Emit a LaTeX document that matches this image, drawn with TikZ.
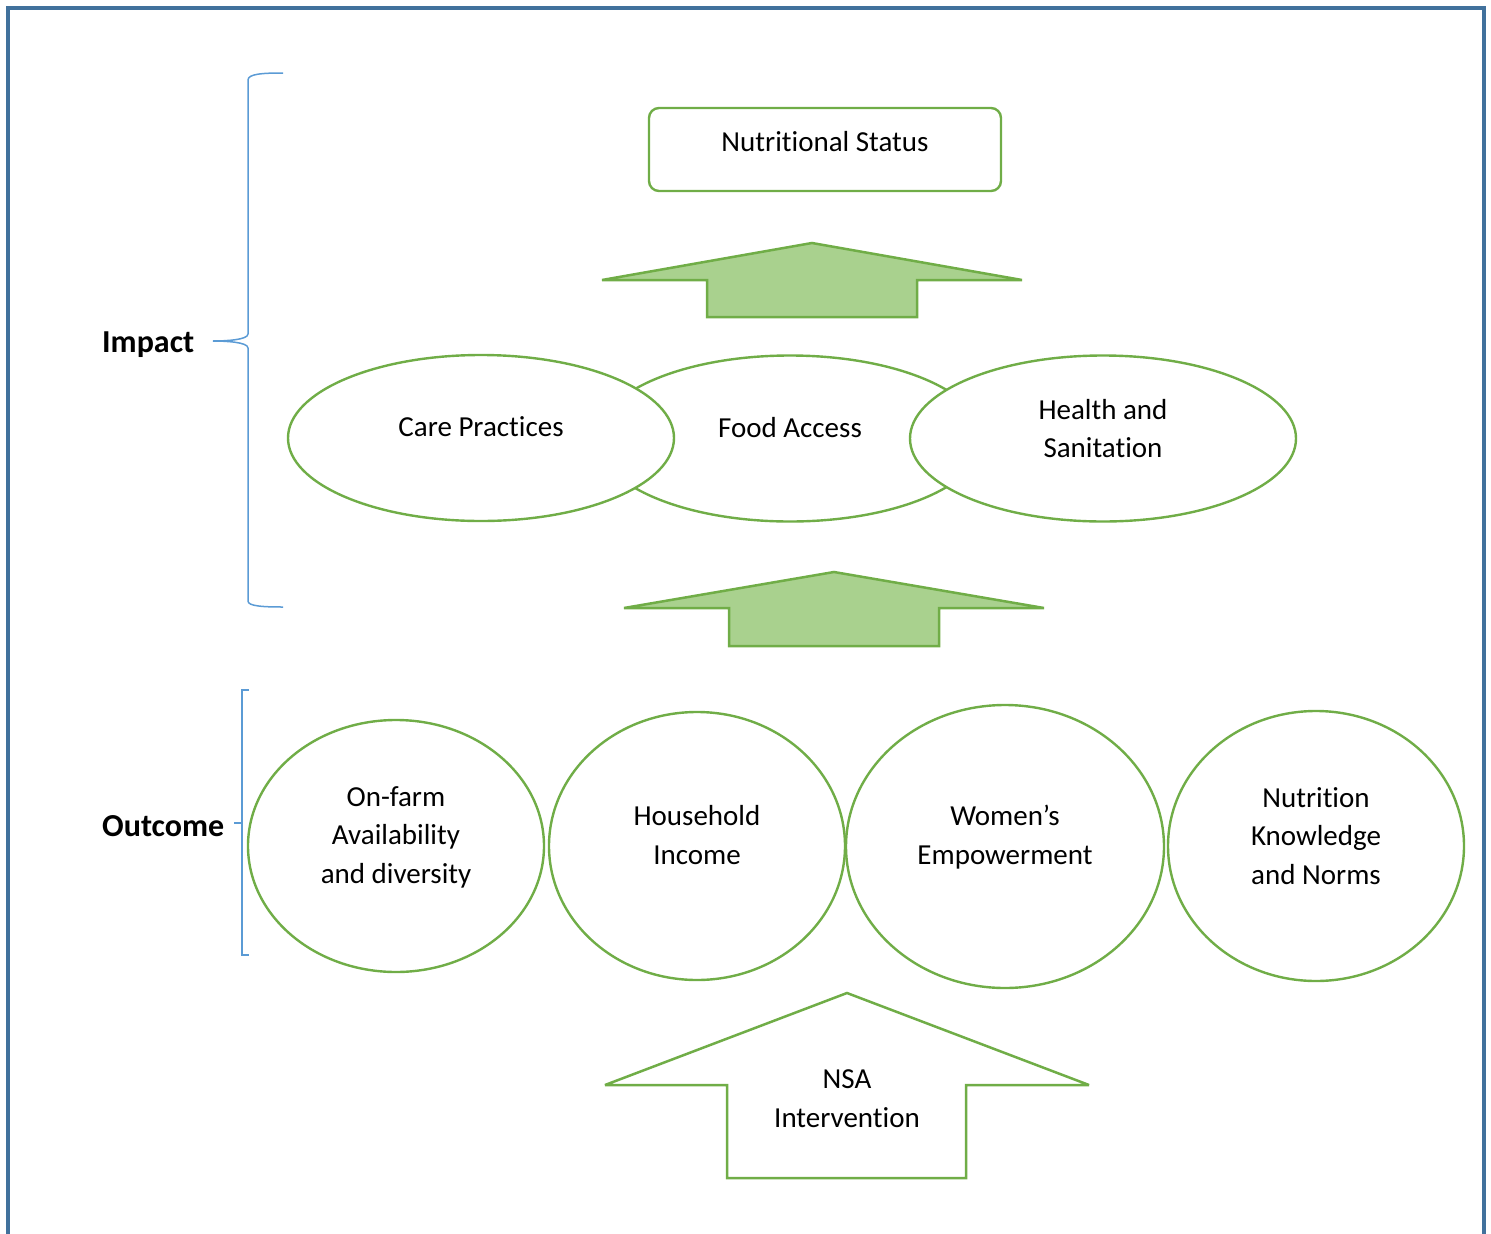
\documentclass[tikz,border=0pt]{standalone}
\usepackage{fontspec}
\setmainfont[Ligatures={NoCommon}]{Carlito}
\usetikzlibrary{shapes.geometric}
\definecolor{grn}{RGB}{112,173,71}
\definecolor{lgrn}{RGB}{169,209,142}
\definecolor{brc}{RGB}{91,155,213}
\definecolor{frm}{RGB}{65,113,156}
\begin{document}
\begin{tikzpicture}[x=1pt,y=-1pt,
  txt/.style={font=\fontsize{29}{38.5}\selectfont,align=center,inner sep=0pt},
  lbl/.style={font=\fontsize{32}{38}\selectfont\bfseries,inner sep=0pt,anchor=west},
  ell/.style={draw=grn,line width=2.4pt,fill=white,ellipse,inner sep=0pt},
  arr/.style={draw=grn,line width=2.5pt,line join=miter,miter limit=2},
  brace/.style={draw=brc,line width=1.5pt}]
\useasboundingbox (0,0) rectangle (1491,1234);
% frame
\draw[frm,line width=3.5pt] (8,1234) -- (8,8) -- (1484,8) -- (1484,1234);
% top box
\node[draw=grn,line width=2.4pt,rounded corners=10pt,minimum width=352pt,minimum height=83pt,inner sep=0pt] (ns) at (825,149.5) {};
\node[txt] (nst) at (825,142) {Nutritional Status};
% arrow 1
\draw[arr,fill=lgrn] (812,243) -- (1022,280) -- (917,280) -- (917,317) -- (707,317) -- (707,280) -- (602,280) -- cycle;
% ellipses
\node[ell,minimum width=386pt,minimum height=166pt] (food) at (790,438.5) {};
\node[ell,minimum width=386pt,minimum height=166pt] (care) at (481,438) {};
\node[ell,minimum width=386pt,minimum height=166pt] (health) at (1103,438.5) {};
\node[txt] (foodt) at (790,428) {Food Access};
\node[txt] (caret) at (481,427) {Care Practices};
\node[txt] (healtht) at (1103,428.5) {Health and\\Sanitation};
% arrow 2
\draw[arr,fill=lgrn] (834,572) -- (1044,608) -- (939,608) -- (939,646) -- (729,646) -- (729,608) -- (624,608) -- cycle;
% circles
\node[ell,minimum width=296pt,minimum height=252pt] (farm) at (396,846) {};
\node[ell,minimum width=296pt,minimum height=268pt] (inc) at (697,846) {};
\node[ell,minimum width=318pt,minimum height=283pt] (wom) at (1005,846.5) {};
\node[ell,minimum width=296pt,minimum height=270pt] (nut) at (1316,846) {};
\node[txt] (farmt) at (396,837) {On-farm\\Availability\\and diversity};
\node[txt] (inct) at (697,835) {Household\\Income};
\node[txt] (womt) at (1005,837) {Women’s\\Empowerment};
\node[txt] (nutt) at (1316,836) {Nutrition\\Knowledge\\and Norms};
% NSA arrow
\draw[arr,fill=white] (847,993) -- (1089,1085) -- (966,1085) -- (966,1178) -- (727,1178) -- (727,1085) -- (605,1085) -- cycle;
\node[txt] (nsa) at (847,1098.5) {NSA\\Intervention};
% labels
\node[lbl] (imp) at (102,345) {Impact};
\node[lbl] (out) at (102,826) {Outcome};
% impact brace
\draw[brace] (283,73) .. controls (262,73) and (248,74) .. (248,80) -- (248,334) .. controls (248,340) and (225,341) .. (213,341);
\draw[brace] (213,341) .. controls (225,341) and (248,342) .. (248,348) -- (248,601) .. controls (248,606) and (262,607) .. (283,607);
% outcome bracket
\draw[brace,line width=1.2pt] (249,690) -- (242,690) -- (242,955) -- (249,955);
\draw[brace,line width=1.2pt] (242,823) -- (234,823);
\end{tikzpicture}
\end{document}
